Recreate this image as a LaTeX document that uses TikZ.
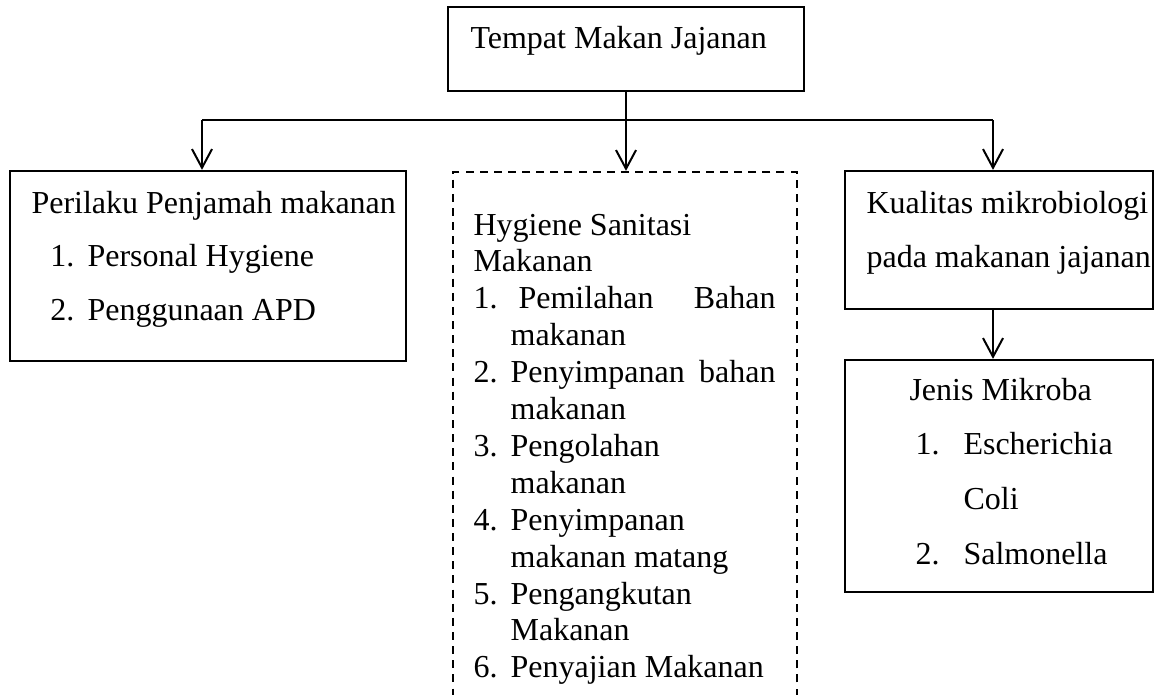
\documentclass[tikz,border=0pt]{standalone}
\usepackage{fontspec}
\setmainfont{Liberation Serif}
\usetikzlibrary{arrows.meta,fit}
\newcommand\colorBox{black}
\newcommand\itemGap{13.9pt}
\newcommand\numItem[1]{\makebox[\itemGap][l]{#1}}
\newcommand\contItem{\hspace*{\itemGap}}
\newcommand\plainSpaces{\spaceskip=0pt\xspaceskip=0pt\relax}
\tikzset{
	boxline/.style={draw=\colorBox, line width=0.85pt, inner sep=0pt},
	dashbox/.style={draw=\colorBox, line width=0.85pt, inner sep=0pt, dash pattern=on 3pt off 2.3pt},
	txt/.style={anchor=base west, inner sep=0pt, align=left, font=\fontsize{12}{#1}\selectfont},
	conn/.style={line width=0.75pt},
	arr/.style={conn, -{Straight Barb[length=7pt,width=7.5pt,line width=0.75pt]}},
}

\begin{document}
\begin{tikzpicture}[x=0.375pt,y=-0.375pt]
		\useasboundingbox (0,0) rectangle (1154,694);
		\clip (0,0) rectangle (1154,694);
		
		% boxes
		\node[boxline, fit={(448,7) (804,91)}] (tempat) {};
		\node[boxline, fit={(10,171) (406,361)}] (perilaku) {};
		\node[dashbox, fit={(453,172) (797,720)}] (hygiene) {};
		\node[boxline, fit={(845,171) (1153,309)}] (kualitas) {};
		\node[boxline, fit={(845,360) (1153,592)}] (jenis) {};
		
		% texts
		\node[txt=13.8pt] (tempatTxt) at (470,48) {Tempat Makan Jajanan};
		\node[txt=20.1pt, text width=140pt] (perilakuTxt) at (31,213) {\plainSpaces
			Perilaku Penjamah makanan\\
			\hspace*{7.1pt}\numItem{1.}Personal Hygiene\\
			\hspace*{7.1pt}\numItem{2.}Penggunaan APD};
		\node[txt=13.84pt, text width=113.25pt] (hygieneTxt) at (473,235) {\plainSpaces
			Hygiene Sanitasi\\
			Makanan\\
			\numItem{1.}\hspace{3pt}Pemilahan\hfill Bahan\\
			\contItem makanan\\
			\numItem{2.}Penyimpanan\hfill bahan\\
			\contItem makanan\\
			\numItem{3.}Pengolahan\\
			\contItem makanan\\
			\numItem{4.}Penyimpanan\\
			\contItem makanan matang\\
			\numItem{5.}Pengangkutan\\
			\contItem Makanan\\
			\numItem{6.}Penyajian Makanan};
		\node[txt=20.6pt, text width=112pt] (kualitasTxt) at (866,213) {\plainSpaces
			Kualitas mikrobiologi\\
			pada makanan jajanan};
		\node[txt=20.5pt, text width=100pt] (jenisTxt) at (909,400) {\plainSpaces
			Jenis Mikroba\\
			\hspace*{2.25pt}\makebox[18pt][l]{1.}Escherichia\\
			\hspace*{20.25pt}Coli\\
			\hspace*{2.25pt}\makebox[18pt][l]{2.}Salmonella};
		
		% connectors
		\coordinate (splitL) at (202,120);
		\coordinate (splitR) at (993,120);
		\draw[conn] (splitL) -- (splitR);
		\draw[arr] (tempat.south) -- (tempat.south |- hygiene.north);
		\draw[arr] (splitL) -- (splitL |- perilaku.north);
		\draw[arr] (splitR) -- (splitR |- kualitas.north);
		\draw[arr] (kualitas.south -| splitR) -- (splitR |- jenis.north);
	\end{tikzpicture}
\end{document}
